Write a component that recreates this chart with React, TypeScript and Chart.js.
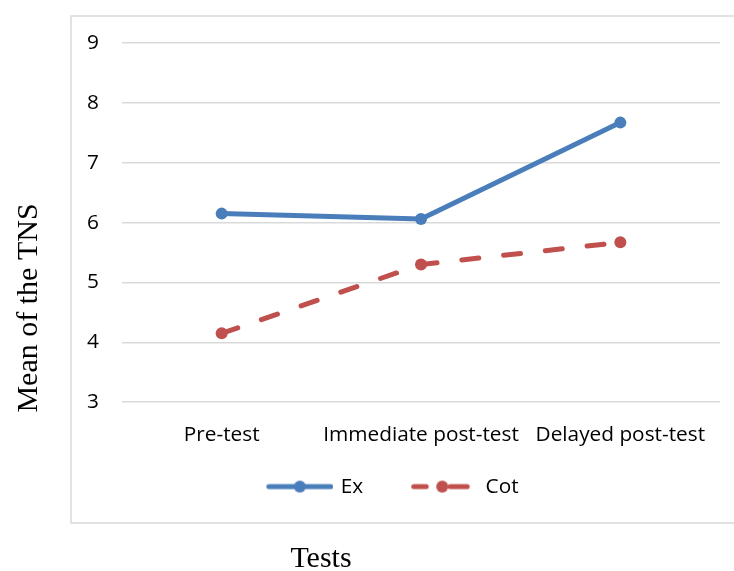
import { useEffect, useRef } from "react";
import { Chart, registerables } from "chart.js";

Chart.register(...registerables);

// Chart content
const categories = ["Pre-test", "Immediate post-test", "Delayed post-test"];
const seriesNames = ["Ex", "Cot"];
const exValues = [6.15, 6.06, 7.67];
const cotValues = [4.15, 5.3, 5.67];
const yMin = 3;
const yMax = 9;
const yStep = 1;
const yTitle = "Mean of the TNS";
const xTitle = "Tests";

const BLUE = "#4a7ebb";
const RED = "#c0504d";
const GRID = "#d9d9d9";
const SANS = "'Open Sans', sans-serif";
const SERIF = "'Liberation Serif', 'Times New Roman', serif";
const LABEL_SIZE = 20.8;

// Legend swatch: line + marker, drawn in the right part of the image so the
// symbol sits close to its label while items stay well apart.
const ICON_BOX = 83;
const ICON_W = 89;
function legendIcon(color: string, dashed: boolean): HTMLCanvasElement {
  const c = document.createElement("canvas");
  c.width = ICON_W;
  c.height = 14;
  const ctx = c.getContext("2d")!;
  const x0 = ICON_W - 67;
  ctx.strokeStyle = color;
  ctx.lineWidth = 5;
  ctx.lineCap = "round";
  ctx.beginPath();
  if (dashed) {
    ctx.moveTo(x0 + 2.5, 7);
    ctx.lineTo(x0 + 15, 7);
    ctx.moveTo(x0 + 39, 7);
    ctx.lineTo(x0 + 56, 7);
  } else {
    ctx.moveTo(x0 + 2.5, 7);
    ctx.lineTo(x0 + 64.5, 7);
  }
  ctx.stroke();
  ctx.fillStyle = color;
  ctx.beginPath();
  ctx.arc(x0 + (dashed ? 31 : 33.5), 7, 6, 0, Math.PI * 2);
  ctx.fill();
  return c;
}

// Outer frame and the two axis titles
const framePlugin = {
  id: "frameAndTitles",
  beforeDraw(chart: Chart) {
    const ctx = chart.ctx;
    ctx.save();
    ctx.strokeStyle = GRID;
    ctx.lineWidth = 1.5;
    ctx.strokeRect(71, 16, 700, 507);
    ctx.restore();
  },
  afterDraw(chart: Chart) {
    const ctx = chart.ctx;
    ctx.save();
    ctx.fillStyle = "#000";
    ctx.font = `30px ${SERIF}`;
    ctx.textAlign = "center";
    ctx.textBaseline = "middle";
    ctx.translate(29, 308);
    ctx.rotate(-Math.PI / 2);
    ctx.fillText(yTitle, 0, 0);
    ctx.restore();

    ctx.save();
    ctx.fillStyle = "#000";
    ctx.font = `30px ${SERIF}`;
    ctx.textAlign = "center";
    ctx.textBaseline = "alphabetic";
    ctx.fillText(xTitle, 321, 567);
    ctx.restore();
  },
};

export default function App() {
  const canvasRef = useRef<HTMLCanvasElement>(null);

  useEffect(() => {
    if (!canvasRef.current) return;
    const icons = [legendIcon(BLUE, false), legendIcon(RED, true)];
    const chart = new Chart(canvasRef.current, {
      type: "line",
      data: {
        labels: categories,
        datasets: [
          {
            label: seriesNames[0],
            data: exValues,
            borderColor: BLUE,
            backgroundColor: BLUE,
            borderWidth: 5,
            borderCapStyle: "round",
            borderJoinStyle: "round",
            pointRadius: 6,
            pointBorderWidth: 0,
            pointBackgroundColor: BLUE,
            tension: 0,
          },
          {
            label: seriesNames[1],
            data: cotValues,
            borderColor: RED,
            backgroundColor: RED,
            borderWidth: 5,
            borderDash: [17, 25],
            borderCapStyle: "round",
            borderJoinStyle: "round",
            pointRadius: 6,
            pointBorderWidth: 0,
            pointBackgroundColor: RED,
            tension: 0,
          },
        ],
      },
      options: {
        responsive: false,
        animation: false,
        devicePixelRatio: 1,
        events: [],
        layout: { padding: { left: 46, right: 14, top: 43, bottom: 64 } },
        scales: {
          x: {
            offset: true,
            grid: { display: false, drawTicks: false },
            border: { display: false },
            ticks: {
              padding: 20,
              color: "#000",
              font: { family: SANS, size: LABEL_SIZE },
              maxRotation: 0,
              autoSkip: false,
            },
            afterFit: (s: any) => {
              s.height = 45;
            },
          },
          y: {
            min: yMin,
            max: yMax,
            grid: { color: GRID, lineWidth: 1.5, drawTicks: false },
            border: { display: false },
            ticks: {
              stepSize: yStep,
              padding: 23,
              color: "#000",
              font: { family: SANS, size: LABEL_SIZE },
            },
            afterFit: (s: any) => {
              s.width = 76;
            },
          },
        },
        plugins: {
          tooltip: { enabled: false },
          legend: {
            position: "bottom",
            labels: {
              usePointStyle: true,
              pointStyleWidth: ICON_BOX,
              boxHeight: 20,
              padding: 29,
              color: "#000",
              font: { family: SANS, size: LABEL_SIZE },
              generateLabels: (c: Chart) =>
                c.data.datasets.map((ds, i) => ({
                  text: ds.label as string,
                  pointStyle: icons[i] as any,
                  fillStyle: ds.borderColor as string,
                  strokeStyle: ds.borderColor as string,
                  lineWidth: 0,
                  hidden: false,
                  datasetIndex: i,
                  fontColor: "#000",
                })),
            },
          },
        },
      },
      plugins: [framePlugin],
    });
    return () => chart.destroy();
  }, []);

  return (
    <div style={{ position: "absolute", left: 0, top: 0, width: 734, height: 571, background: "#fff" }}>
      <canvas ref={canvasRef} width={734} height={571} style={{ display: "block" }} />
    </div>
  );
}
